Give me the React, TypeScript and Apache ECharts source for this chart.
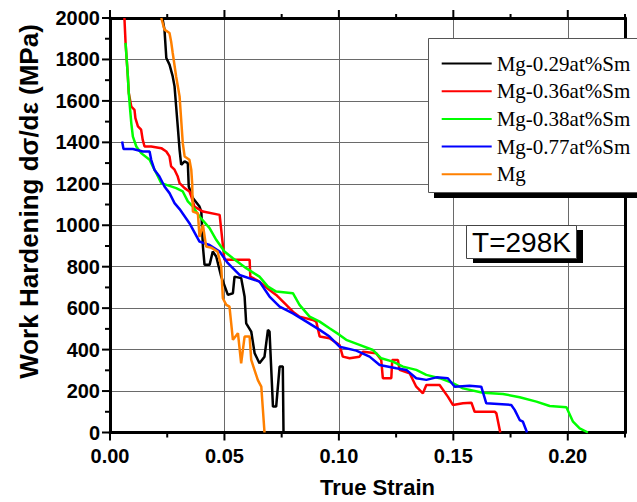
import React, { useEffect, useRef } from "react";
import * as echarts from "echarts";

// ---- data ----
const seriesNames = ["Mg-0.29at%Sm", "Mg-0.36at%Sm", "Mg-0.38at%Sm", "Mg-0.77at%Sm", "Mg"];
const seriesColors = ["#000000", "#ff0000", "#00ff00", "#0000ff", "#ff8000"];

const mg029Strain = [0.0229, 0.0238, 0.0246, 0.026, 0.0274, 0.0282, 0.0289, 0.0296, 0.0304, 0.0311, 0.0326, 0.034, 0.0344, 0.0362, 0.0391, 0.0399, 0.0406, 0.0413, 0.0435, 0.0449, 0.0464, 0.0486, 0.0515, 0.0537, 0.0544, 0.0573, 0.0588, 0.0595, 0.0617, 0.0632, 0.0653, 0.0675, 0.069, 0.0697, 0.0712, 0.0726, 0.0741, 0.0755, 0.0758];
const mg029Hardening = [2000, 1944, 1807, 1775, 1718, 1670, 1573, 1477, 1364, 1292, 1308, 1300, 1187, 1131, 1090, 1066, 897, 809, 809, 873, 849, 752, 664, 672, 752, 745, 656, 527, 487, 382, 334, 366, 495, 487, 125, 125, 318, 318, 0];

const mg036Strain = [0.0063, 0.0068, 0.0073, 0.0078, 0.0082, 0.0093, 0.0107, 0.0111, 0.0122, 0.0136, 0.0143, 0.0151, 0.018, 0.0224, 0.0246, 0.026, 0.0267, 0.0282, 0.0296, 0.0304, 0.0326, 0.0347, 0.0355, 0.0369, 0.0406, 0.0479, 0.0486, 0.05, 0.061, 0.0613, 0.0653, 0.0697, 0.0726, 0.077, 0.0799, 0.0828, 0.0886, 0.0901, 0.0916, 0.0959, 0.1003, 0.1017, 0.1047, 0.109, 0.1105, 0.1163, 0.1185, 0.1192, 0.1229, 0.1233, 0.1258, 0.1265, 0.1309, 0.1338, 0.1367, 0.1382, 0.144, 0.1476, 0.1498, 0.1542, 0.1579, 0.1593, 0.1681, 0.1688, 0.1705];
const mg036Hardening = [2000, 1880, 1799, 1718, 1638, 1573, 1557, 1517, 1477, 1461, 1412, 1380, 1380, 1372, 1356, 1332, 1284, 1268, 1235, 1203, 1179, 1163, 1139, 1090, 1066, 1050, 978, 833, 833, 752, 728, 688, 664, 616, 583, 559, 543, 535, 463, 455, 422, 366, 358, 366, 390, 382, 350, 262, 262, 350, 350, 302, 286, 221, 189, 229, 229, 173, 133, 141, 144, 100, 100, 93, 0];

const mg038Strain = [0.0068, 0.0073, 0.0078, 0.0082, 0.0088, 0.0093, 0.01, 0.0115, 0.0136, 0.0173, 0.0187, 0.0202, 0.0224, 0.0289, 0.0318, 0.034, 0.0362, 0.0391, 0.0435, 0.0464, 0.05, 0.0537, 0.0595, 0.0653, 0.069, 0.0726, 0.0799, 0.0828, 0.0872, 0.0916, 0.0959, 0.1003, 0.1032, 0.109, 0.1149, 0.1185, 0.1236, 0.128, 0.1338, 0.1382, 0.144, 0.1498, 0.1542, 0.1629, 0.1717, 0.179, 0.1863, 0.1921, 0.1994, 0.2023, 0.2052, 0.2088];
const mg038Hardening = [1880, 1799, 1718, 1638, 1557, 1493, 1428, 1380, 1348, 1316, 1284, 1252, 1203, 1179, 1163, 1115, 1090, 1042, 986, 930, 873, 841, 793, 752, 704, 680, 672, 616, 559, 535, 503, 471, 447, 423, 398, 358, 342, 318, 302, 278, 262, 238, 213, 192, 186, 170, 149, 128, 122, 52, 20, 0];

const mg077Strain = [0.0053, 0.0059, 0.01, 0.0143, 0.0173, 0.018, 0.0194, 0.0216, 0.0238, 0.026, 0.0282, 0.0304, 0.0347, 0.0391, 0.0435, 0.0479, 0.0515, 0.0566, 0.0653, 0.0697, 0.0741, 0.0799, 0.0858, 0.0916, 0.0959, 0.1003, 0.1076, 0.1134, 0.1178, 0.1251, 0.1295, 0.1338, 0.1382, 0.1426, 0.1476, 0.1506, 0.1571, 0.1622, 0.1644, 0.1753, 0.1768, 0.179, 0.1804, 0.1822];
const mg077Hardening = [1404, 1368, 1368, 1356, 1356, 1316, 1268, 1235, 1187, 1155, 1107, 1078, 1010, 921, 905, 873, 817, 760, 728, 656, 607, 575, 535, 495, 463, 414, 395, 366, 326, 310, 302, 262, 254, 266, 262, 221, 225, 221, 141, 133, 109, 60, 52, 0];

const mgStrain = [0.0224, 0.0238, 0.026, 0.0267, 0.0274, 0.0289, 0.0304, 0.0311, 0.0318, 0.0326, 0.0347, 0.0355, 0.0359, 0.0362, 0.0384, 0.0391, 0.0406, 0.042, 0.0444, 0.047, 0.0486, 0.0493, 0.0508, 0.0522, 0.0537, 0.0559, 0.0573, 0.0588, 0.061, 0.0617, 0.0646, 0.0661, 0.0675];
const mgHardening = [2000, 1944, 1928, 1887, 1831, 1718, 1622, 1509, 1396, 1332, 1316, 1268, 1203, 1066, 1058, 944, 1002, 897, 891, 873, 801, 648, 616, 607, 447, 479, 334, 463, 463, 350, 253, 221, 0];

const strainSets = [mg029Strain, mg036Strain, mg038Strain, mg077Strain, mgStrain];
const hardeningSets = [mg029Hardening, mg036Hardening, mg038Hardening, mg077Hardening, mgHardening];

// axis ranges and tick positions
const xMin = 0;
const xMax = 0.225;
const xInterval = 0.05;
const yMin = 0;
const yMax = 2000;
const yInterval = 200;
const xMajorTicks = [0, 0.05, 0.1, 0.15, 0.2];
const xMinorTicks = [0.025, 0.075, 0.125, 0.175, 0.225];
const yMajorTicks = [0, 200, 400, 600, 800, 1000, 1200, 1400, 1600, 1800, 2000];
const yMinorTicks = [100, 300, 500, 700, 900, 1100, 1300, 1500, 1700, 1900];

const xTitle = "True Strain";
const yTitle = "Work Hardening d\u03c3/d\u03b5 (MPa)";
const tempLabel = "T=298K";

const SANS = "'Liberation Sans', Arial, sans-serif";
const SERIF = "'Liberation Serif', 'Times New Roman', serif";

export default function App() {
  const ref = useRef<HTMLDivElement>(null);

  useEffect(() => {
    document.body.style.margin = "0";
    if (!ref.current) return;
    const chart = echarts.init(ref.current, null, { renderer: "svg" });

    const lineSeries = seriesNames.map((name, i) => ({
      name,
      type: "line",
      data: strainSets[i].map((x, j) => [x, hardeningSets[i][j]]),
      symbol: "none",
      showSymbol: false,
      xAxisIndex: 0,
      yAxisIndex: 0,
      lineStyle: { color: seriesColors[i], width: 2.5 },
      itemStyle: { color: seriesColors[i] },
      z: 2 + i * 0.01,
    }));

    const tickStyle = { stroke: "#000", lineWidth: 2 };

    // tick marks drawn through the axes' own scale (api.coord)
    const xTickSeries = (values: number[], down: number, up: number) => ({
      type: "custom",
      xAxisIndex: 0,
      yAxisIndex: 0,
      clip: false,
      silent: true,
      z: 5,
      data: values.map((v) => [v, yMin]),
      renderItem: (_params: any, api: any) => {
        const v = api.value(0);
        const b = api.coord([v, yMin]);
        const t = api.coord([v, yMax]);
        return {
          type: "group",
          children: [
            { type: "line", shape: { x1: b[0], y1: b[1] - 1, x2: b[0], y2: b[1] + down }, style: tickStyle },
            { type: "line", shape: { x1: t[0], y1: t[1] + 1, x2: t[0], y2: t[1] - up }, style: tickStyle },
          ],
        };
      },
    });
    const yTickSeries = (values: number[], len: number) => ({
      type: "custom",
      xAxisIndex: 0,
      yAxisIndex: 0,
      clip: false,
      silent: true,
      z: 5,
      data: values.map((v) => [xMin, v]),
      renderItem: (_params: any, api: any) => {
        const p = api.coord([xMin, api.value(1)]);
        return { type: "line", shape: { x1: p[0] + 1, y1: p[1], x2: p[0] - len, y2: p[1] }, style: tickStyle };
      },
    });

    const gridRect = { left: 110, right: 12, top: 18, bottom: 69.5 };
    const frameLine = { show: true, onZero: false, lineStyle: { color: "#000", width: 3 } };

    chart.setOption({
      animation: false,
      backgroundColor: "#ffffff",
      grid: [gridRect, gridRect],
      xAxis: [
        {
          type: "value", gridIndex: 0, min: xMin, max: xMax, interval: xInterval, position: "bottom",
          axisLine: frameLine,
          axisTick: { show: false },
          axisLabel: {
            show: true, margin: 13, showMaxLabel: false,
            formatter: (v: number) => v.toFixed(2),
            fontFamily: SANS, fontWeight: "bold", fontSize: 20, color: "#000",
          },
          splitLine: { show: true, lineStyle: { color: "#6a6a6a", width: 1 } },
        },
        {
          type: "value", gridIndex: 1, min: xMin, max: xMax, interval: xInterval, position: "top",
          axisLine: frameLine, axisTick: { show: false }, axisLabel: { show: false }, splitLine: { show: false },
        },
      ],
      yAxis: [
        {
          type: "value", gridIndex: 0, min: yMin, max: yMax, interval: yInterval, position: "left",
          axisLine: frameLine,
          axisTick: { show: false },
          axisLabel: {
            show: true, margin: 10,
            formatter: (v: number) => String(v),
            fontFamily: SANS, fontWeight: "bold", fontSize: 20, color: "#000",
          },
          splitLine: { show: true, lineStyle: { color: "#6a6a6a", width: 1 } },
        },
        {
          type: "value", gridIndex: 1, min: yMin, max: yMax, interval: yInterval, position: "right",
          axisLine: frameLine, axisTick: { show: false }, axisLabel: { show: false }, splitLine: { show: false },
        },
      ],
      legend: {
        show: true,
        orient: "vertical",
        left: 441.7,
        top: 53,
        padding: 0,
        itemGap: 6.7,
        itemWidth: 50,
        itemHeight: 20,
        selectedMode: false,
        z: 10,
        data: seriesNames.map((n) => ({ name: n, icon: "path://M0,9L50,9L50,11L0,11Z" })),
        textStyle: { fontFamily: SERIF, fontSize: 21, color: "#000", lineHeight: 20 },
      },
      graphic: [
        { type: "rect", z: 8, shape: { x: 434, y: 44, width: 215, height: 154 }, style: { fill: "#000" } },
        { type: "rect", z: 9, shape: { x: 428.5, y: 38.5, width: 215, height: 154 }, style: { fill: "#fff", stroke: "#555", lineWidth: 1 } },
        { type: "rect", z: 8, shape: { x: 473, y: 230, width: 110, height: 33 }, style: { fill: "#000" } },
        { type: "rect", z: 9, shape: { x: 466.5, y: 225.5, width: 110, height: 33 }, style: { fill: "#fff", stroke: "#444", lineWidth: 1 } },
        {
          type: "text", z: 10, x: 521.5, y: 242,
          style: { text: tempLabel, font: "28px " + SANS, fill: "#000", textAlign: "center", textVerticalAlign: "middle" },
        },
        {
          type: "text", z: 10, x: 377.5, y: 487.5,
          style: { text: xTitle, font: "bold 22px " + SANS, fill: "#000", textAlign: "center", textVerticalAlign: "middle" },
        },
        {
          type: "text", z: 10, x: 29, y: 201.5, rotation: Math.PI / 2,
          style: { text: yTitle, font: "bold 26px " + SANS, fill: "#000", textAlign: "center", textVerticalAlign: "middle" },
        },
      ],
      series: [
        ...lineSeries,
        xTickSeries(xMajorTicks, 8, 8),
        xTickSeries(xMinorTicks, 5, 4),
        yTickSeries(yMajorTicks, 8),
        yTickSeries(yMinorTicks, 5),
      ],
    });

    return () => {
      chart.dispose();
    };
  }, []);

  return <div ref={ref} style={{ width: 637, height: 502 }} />;
}
